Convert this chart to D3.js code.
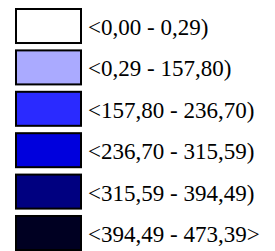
<!DOCTYPE html>
<html>
<head>
<meta charset="utf-8">
<script src="https://cdn.jsdelivr.net/npm/d3@7"></script>
<style>
  html, body { margin: 0; padding: 0; background: #fff; }
  text { font-family: "Liberation Serif", "Times New Roman", serif; }
</style>
</head>
<body>
<div id="chart" style="width:275px;height:251px"></div>
<script>
  const labels = [
    "<0,00 - 0,29)",
    "<0,29 - 157,80)",
    "<157,80 - 236,70)",
    "<236,70 - 315,59)",
    "<315,59 - 394,49)",
    "<394,49 - 473,39>"
  ];
  const swatches = ["#ffffff", "#aaaaff", "#2a2aff", "#0000dd", "#000080", "#000022"];

  const w = 275, h = 251;
  const svg = d3.select("#chart").append("svg")
    .attr("width", w).attr("height", h);

  // one row per class
  const y = d3.scaleBand()
    .domain(d3.range(labels.length))
    .range([8, 251])
    .paddingInner(0.13);

  const rows = svg.selectAll("g.row")
    .data(labels)
    .enter().append("g")
    .attr("class", "row")
    .attr("transform", (d, i) => `translate(0,${y(i)})`);

  rows.append("rect")
    .attr("x", 16).attr("y", 1)
    .attr("width", 65).attr("height", y.bandwidth() - 2)
    .attr("fill", (d, i) => swatches[i])
    .attr("stroke", "#000")
    .attr("stroke-width", 2);

  rows.append("text")
    .attr("x", 88).attr("y", 27)
    .attr("font-size", 23)
    .attr("fill", "#000")
    .text(d => d);
</script>
</body>
</html>
